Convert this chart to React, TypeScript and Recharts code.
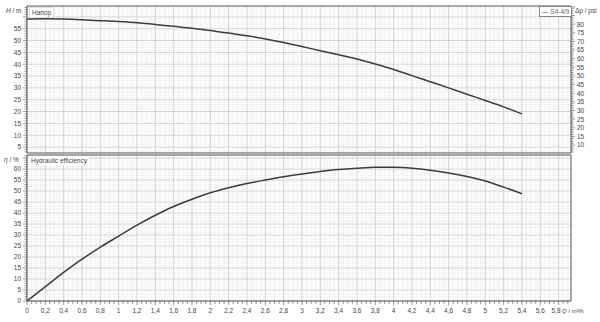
import { LineChart, Line, XAxis, YAxis, ReferenceLine } from 'recharts'

// flow rate Q, m³/h
const Q = [0, 0.2, 0.4, 0.6, 0.8, 1, 1.2, 1.4, 1.6, 1.8, 2, 2.2, 2.4, 2.6, 2.8, 3, 3.2, 3.4, 3.6, 3.8, 4, 4.2, 4.4, 4.6, 4.8, 5, 5.2, 5.4]
// head H, m
const HEAD = [59.1, 59.2, 59.1, 58.8, 58.4, 58.0, 57.5, 56.8, 56.0, 55.2, 54.2, 53.2, 52.0, 50.7, 49.2, 47.5, 45.7, 44.0, 42.2, 40.1, 37.8, 35.2, 32.6, 30.0, 27.3, 24.7, 22.0, 19.0]
// hydraulic efficiency, %
const EFF = [0, 6.5, 13, 19, 24.5, 29.5, 34.5, 39, 43, 46.3, 49.2, 51.5, 53.4, 55, 56.5, 57.8, 58.9, 59.8, 60.4, 60.8, 60.8, 60.4, 59.5, 58.2, 56.6, 54.6, 51.8, 48.8]

const Q_LABELS = [0, 0.2, 0.4, 0.6, 0.8, 1, 1.2, 1.4, 1.6, 1.8, 2, 2.2, 2.4, 2.6, 2.8, 3, 3.2, 3.4, 3.6, 3.8, 4, 4.2, 4.4, 4.6, 4.8, 5, 5.2, 5.4, 5.6, 5.8]

const X_DOMAIN: [number, number] = [0, 5.935]
const H_DOMAIN: [number, number] = [2.5, 64.6]
const PSI_DOMAIN: [number, number] = [5.4, 90.5]
const ETA_DOMAIN: [number, number] = [0, 66.4]

const FONT = '"Liberation Sans", Arial, sans-serif'
const TXT = '#444'
const AXIS = '#555'
const MAJOR = '#c9c9c9'
const MINOR = '#ececec'

const data = Q.map((q, i) => ({ q, head: HEAD[i], eff: EFF[i] }))

const range = (from: number, to: number, step: number) => {
  const out: number[] = []
  for (let v = from; v <= to + 1e-9; v += step) out.push(Math.round(v * 100) / 100)
  return out
}

const xMinor = range(0, 5.9, 0.05)
const hTicks = range(3, 64, 1)
const psiTicks = range(6, 90, 1)
const etaTicks = range(0, 66, 1)
const isMul = (v: number, m: number) => Math.abs(v / m - Math.round(v / m)) < 1e-6
const fmtQ = (v: number) => (Number.isInteger(v) ? String(v) : v.toFixed(1).replace('.', ','))

function LeftTick({ x, y, payload, max }: any) {
  const v = payload.value
  const major = isMul(v, 5)
  return (
    <g>
      <line x1={x - (major ? 4 : 2.5)} x2={x} y1={y} y2={y} stroke={AXIS} strokeWidth={0.6} />
      {major && v <= max && (
        <text x={x - 6} y={y} dy={2.4} textAnchor="end" fontSize={6.5} fill={TXT} fontFamily={FONT}>{v}</text>
      )}
    </g>
  )
}

function RightTick({ x, y, payload, max }: any) {
  const v = payload.value
  const major = isMul(v, 5)
  return (
    <g>
      <line x1={x} x2={x + (major ? 4 : 2.5)} y1={y} y2={y} stroke={AXIS} strokeWidth={0.6} />
      {major && v <= max && (
        <text x={x + 6} y={y} dy={2.4} textAnchor="start" fontSize={6.5} fill={TXT} fontFamily={FONT}>{v}</text>
      )}
    </g>
  )
}

function BottomTick({ x, y, payload }: any) {
  const v = payload.value
  const major = isMul(v, 0.2)
  const last = v === Q_LABELS[Q_LABELS.length - 1]
  return (
    <g>
      <line x1={x} x2={x} y1={y} y2={y + (major ? 4 : 3)} stroke={AXIS} strokeWidth={0.6} />
      {major && Q_LABELS.includes(v) && (
        <text x={last ? x + 2 : x} y={y + 12} textAnchor={last ? 'end' : 'middle'} fontSize={6.5} fill={TXT} fontFamily={FONT}>{fmtQ(v)}</text>
      )}
    </g>
  )
}

const label = (left: number, top: number, extra: any = {}) => ({
  position: 'absolute' as const, left, top, fontSize: 6.5, color: TXT, fontFamily: FONT, lineHeight: '8px', whiteSpace: 'nowrap' as const, ...extra,
})

function grid(yId: string, yMinor: number[], yMajorStep: number) {
  return [
    ...xMinor.filter(v => !isMul(v, 0.2)).map(v => (
      <ReferenceLine key={'xm' + v} x={v} yAxisId={yId} stroke={MINOR} strokeWidth={0.6} />
    )),
    ...yMinor.filter(v => !isMul(v, yMajorStep)).map(v => (
      <ReferenceLine key={'ym' + v} y={v} yAxisId={yId} stroke={MINOR} strokeWidth={0.6} />
    )),
    ...xMinor.filter(v => isMul(v, 0.2)).map(v => (
      <ReferenceLine key={'xM' + v} x={v} yAxisId={yId} stroke={MAJOR} strokeWidth={0.8} />
    )),
    ...yMinor.filter(v => isMul(v, yMajorStep)).map(v => (
      <ReferenceLine key={'yM' + v} y={v} yAxisId={yId} stroke={MAJOR} strokeWidth={0.8} />
    )),
  ]
}

export default function App() {
  return (
    <div style={{ position: 'absolute', left: 0, top: 0, width: 600, height: 322, background: '#fff', overflow: 'hidden' }}>
      <div style={{ position: 'absolute', left: 0, top: 0 }}>
        <LineChart width={600} height={155} data={data} margin={{ top: 6, right: 0, bottom: 2, left: 0 }}>
          <XAxis dataKey="q" type="number" domain={X_DOMAIN} allowDataOverflow hide />
          <YAxis yAxisId="h" type="number" domain={H_DOMAIN} allowDataOverflow ticks={hTicks} interval={0}
            width={27} tickSize={0} tickMargin={0} tickLine={false} tick={<LeftTick max={55} />} axisLine={{ stroke: AXIS }} />
          <YAxis yAxisId="psi" orientation="right" type="number" domain={PSI_DOMAIN} allowDataOverflow ticks={psiTicks} interval={0}
            width={29} tickSize={0} tickMargin={0} tickLine={false} tick={<RightTick max={80} />} axisLine={{ stroke: AXIS }} />
          {grid('h', hTicks, 5)}
          <ReferenceLine y={H_DOMAIN[1]} yAxisId="h" stroke={AXIS} strokeWidth={1} />
          <ReferenceLine y={H_DOMAIN[0]} yAxisId="h" stroke={AXIS} strokeWidth={1.2} />
          <Line yAxisId="h" dataKey="head" type="monotone" stroke="#3c3c3c" strokeWidth={1.5} dot={false} isAnimationActive={false} />
        </LineChart>
      </div>
      <div style={{ position: 'absolute', left: 0, top: 153 }}>
        <LineChart width={600} height={169} data={data} margin={{ top: 2, right: 29, bottom: 0, left: 0 }}>
          <XAxis dataKey="q" type="number" domain={X_DOMAIN} allowDataOverflow ticks={xMinor} interval={0} height={21}
            tickSize={0} tickMargin={0} tickLine={false} tick={<BottomTick />} axisLine={{ stroke: AXIS }} />
          <YAxis yAxisId="eta" type="number" domain={ETA_DOMAIN} allowDataOverflow ticks={etaTicks} interval={0}
            width={27} tickSize={0} tickMargin={0} tickLine={false} tick={<LeftTick max={60} />} axisLine={{ stroke: AXIS }} />
          {grid('eta', etaTicks, 5)}
          <ReferenceLine y={ETA_DOMAIN[1]} yAxisId="eta" stroke={AXIS} strokeWidth={1.2} />
          <ReferenceLine x={X_DOMAIN[1]} yAxisId="eta" stroke={AXIS} strokeWidth={1} />
          <Line yAxisId="eta" dataKey="eff" type="monotone" stroke="#3c3c3c" strokeWidth={1.5} dot={false} isAnimationActive={false} />
        </LineChart>
      </div>

      <div style={label(6, 7)}><i>H</i> / m</div>
      <div style={label(575, 7)}>Δp / psi</div>
      <div style={label(4, 156)}><i>η</i> / %</div>
      <div style={label(562, 307, { fontSize: 6 })}><i>Q</i> / m³/h</div>

      <div style={label(29, 7, { background: '#fff', padding: '1px 2px', border: '1px solid #ddd', lineHeight: '7px' })}>Напор</div>
      <div style={label(29, 156, { background: '#fff', padding: '1px 2px', lineHeight: '7px' })}>Hydraulic efficiency</div>
      <div style={label(539, 6, { background: '#fff', padding: '1px 2px', border: '1px solid #888', lineHeight: '7px', color: '#666' })}>— S4-4/9</div>
    </div>
  )
}
